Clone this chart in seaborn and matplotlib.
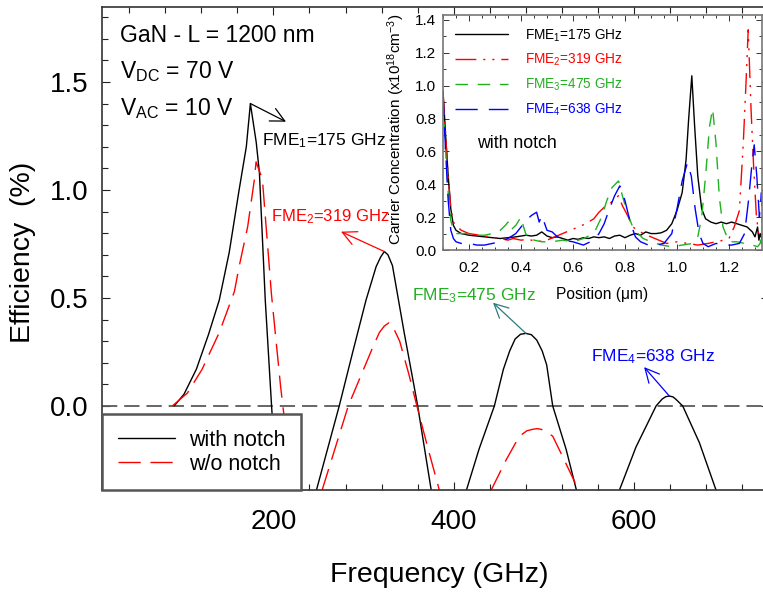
import matplotlib
matplotlib.use("Agg")
import matplotlib.pyplot as plt
from matplotlib.ticker import MultipleLocator, FormatStrFormatter
from matplotlib.lines import Line2D
import seaborn as sns

# ---------------- main plot data (Frequency GHz, Efficiency %) ----------------
freq_notch_1 = [90, 101, 114.6, 128, 140, 151, 162, 170, 174.5, 181, 184.5, 191, 198, 204]
eff_notch_1 = [0, 0.055, 0.17, 0.33, 0.49, 0.71, 1.0, 1.2, 1.40, 1.22, 1.08, 0.49, 0.0, -0.39]
freq_wo_1 = [88, 104.7, 121, 140, 156.8, 162, 171.5, 179, 180.8, 187.8, 197.8, 208, 215, 223]
eff_wo_1 = [0, 0.06, 0.17, 0.34, 0.53, 0.645, 0.83, 1.05, 1.13, 1.05, 0.52, 0.09, -0.16, -0.39]

freq_notch_2 = [247.7, 273, 288, 302.7, 313.9, 319, 323, 327, 332, 345, 359.6, 375]
eff_notch_2 = [-0.39, 0, 0.25, 0.49, 0.645, 0.69, 0.715, 0.70, 0.65, 0.34, 0.01, -0.39]
freq_wo_2 = [254, 283, 300, 310, 317.5, 323, 328, 331, 340, 350, 358.5, 371, 384]
eff_wo_2 = [-0.39, 0, 0.17, 0.27, 0.34, 0.37, 0.385, 0.38, 0.30, 0.15, 0.01, -0.19, -0.39]

freq_notch_3 = [414, 428, 445, 455, 462, 468, 474, 480, 486, 492, 498, 503, 509.7, 524.5, 536]
eff_notch_3 = [-0.39, -0.2, 0, 0.17, 0.255, 0.31, 0.332, 0.336, 0.33, 0.305, 0.255, 0.19, 0, -0.2, -0.39]
freq_wo_3 = [441.4, 458, 472.7, 481, 487.5, 492, 496.8, 503, 509.7, 519, 538.5]
eff_wo_3 = [-0.39, -0.25, -0.14, -0.115, -0.108, -0.105, -0.108, -0.12, -0.14, -0.22, -0.39]

freq_notch_4 = [583.6, 602, 624.3, 631, 635, 639, 643, 646, 653.8, 672.3, 690.8]
eff_notch_4 = [-0.39, -0.19, 0, 0.032, 0.043, 0.046, 0.042, 0.032, 0, -0.17, -0.39]

fme_labels = ["FME$_1$=175 GHz", "FME$_2$=319 GHz", "FME$_3$=475 GHz", "FME$_4$=638 GHz"]
fme_peaks = [(174.5, 1.40), (323, 0.715), (480, 0.336), (639, 0.046)]
fme_heads = [(214, 1.316), (275, 0.807), (443.5, 0.478), (611, 0.18)]
fme_text_pos = [(187.8, 1.23), (197, 0.875), (354, 0.509), (552.5, 0.227)]

# ---------------- inset data (Position um, Carrier concentration 1e18 cm^-3) ----------------
pos_fme1 = [0.10, 0.11, 0.12, 0.13, 0.14, 0.15, 0.17, 0.20, 0.23, 0.26, 0.29, 0.32, 0.35, 0.38,
            0.40, 0.42, 0.44, 0.46, 0.48, 0.50, 0.52, 0.54, 0.56, 0.58, 0.60, 0.62, 0.64, 0.66,
            0.68, 0.70, 0.72, 0.74, 0.76, 0.78, 0.80, 0.82, 0.84, 0.86, 0.88, 0.90, 0.92, 0.94,
            0.96, 0.98, 1.00, 1.02, 1.035, 1.045, 1.057, 1.068, 1.08, 1.095, 1.11, 1.13, 1.15,
            1.17, 1.19, 1.21, 1.23, 1.25, 1.27, 1.29, 1.30, 1.31, 1.315, 1.32, 1.33]
conc_fme1 = [0.97, 0.7, 0.45, 0.25, 0.15, 0.12, 0.1, 0.09, 0.085, 0.08, 0.075, 0.07, 0.075, 0.08,
             0.085, 0.09, 0.085, 0.09, 0.11, 0.085, 0.075, 0.08, 0.07, 0.06, 0.07, 0.065, 0.075, 0.07,
             0.08, 0.075, 0.08, 0.07, 0.085, 0.09, 0.075, 0.09, 0.1, 0.09, 0.11, 0.1, 0.1, 0.105,
             0.12, 0.16, 0.24, 0.35, 0.55, 0.8, 1.06, 0.75, 0.45, 0.25, 0.19, 0.17, 0.16,
             0.17, 0.16, 0.17, 0.16, 0.15, 0.14, 0.11, 0.08, 0.14, 0.06, 0.1, 0.05]

pos_fme2 = [0.10, 0.11, 0.12, 0.13, 0.14, 0.15, 0.17, 0.20, 0.24, 0.28, 0.32, 0.35, 0.37, 0.40,
            0.43, 0.46, 0.50, 0.53, 0.56, 0.59, 0.62, 0.65, 0.68, 0.70, 0.72, 0.74, 0.76, 0.775,
            0.79, 0.81, 0.83, 0.85, 0.87, 0.90, 0.93, 0.96, 1.00, 1.04, 1.08, 1.12, 1.15, 1.18,
            1.20, 1.22, 1.24, 1.255, 1.265, 1.274, 1.285, 1.295, 1.305, 1.315, 1.33]
conc_fme2 = [0.95, 0.7, 0.45, 0.25, 0.17, 0.15, 0.12, 0.1, 0.09, 0.08, 0.07, 0.06, 0.07, 0.06,
             0.065, 0.05, 0.06, 0.08, 0.1, 0.12, 0.14, 0.16, 0.19, 0.23, 0.26, 0.28, 0.31, 0.33,
             0.27, 0.21, 0.14, 0.12, 0.1, 0.08, 0.06, 0.04, 0.05, 0.04, 0.03, 0.04, 0.05, 0.06,
             0.07, 0.14, 0.24, 0.65, 1.0, 1.34, 0.85, 0.5, 0.22, 0.08, 0.03]

pos_fme3 = [0.10, 0.11, 0.12, 0.13, 0.14, 0.15, 0.17, 0.20, 0.23, 0.26, 0.29, 0.32, 0.34, 0.35,
            0.36, 0.38, 0.40, 0.41, 0.42, 0.43, 0.45, 0.48, 0.52, 0.56, 0.60, 0.64, 0.68, 0.71,
            0.73, 0.75, 0.775, 0.79, 0.81, 0.83, 0.85, 0.87, 0.90, 0.94, 0.98, 1.02, 1.06, 1.08,
            1.095, 1.11, 1.125, 1.137, 1.15, 1.163, 1.177, 1.20, 1.23, 1.26, 1.29, 1.31, 1.32, 1.33]
conc_fme3 = [0.9, 0.6, 0.35, 0.18, 0.12, 0.1, 0.1, 0.1, 0.09, 0.09, 0.1, 0.12, 0.15, 0.17,
             0.12, 0.15, 0.2, 0.14, 0.09, 0.1, 0.06, 0.05, 0.05, 0.06, 0.05, 0.07, 0.1, 0.2,
             0.3, 0.38, 0.42, 0.33, 0.22, 0.14, 0.1, 0.07, 0.05, 0.03, 0.02, 0.03, 0.04, 0.08,
             0.2, 0.45, 0.75, 0.86, 0.65, 0.32, 0.14, 0.05, 0.05, 0.04, 0.03, 0.02, 0.04, 0.15]

pos_fme4 = [0.10, 0.11, 0.12, 0.13, 0.14, 0.15, 0.17, 0.20, 0.23, 0.26, 0.29, 0.32, 0.35, 0.38,
            0.40, 0.42, 0.44, 0.46, 0.47, 0.48, 0.50, 0.52, 0.54, 0.56, 0.60, 0.64, 0.68, 0.70,
            0.72, 0.74, 0.76, 0.78, 0.80, 0.82, 0.84, 0.86, 0.89, 0.92, 0.95, 0.98, 1.00, 1.02,
            1.04, 1.055, 1.07, 1.085, 1.10, 1.12, 1.15, 1.18, 1.21, 1.24, 1.26, 1.275, 1.287,
            1.297, 1.307, 1.317, 1.325, 1.33]
conc_fme4 = [0.95, 0.6, 0.3, 0.12, 0.07, 0.05, 0.04, 0.04, 0.03, 0.03, 0.04, 0.05, 0.07, 0.1,
             0.14, 0.18, 0.21, 0.23, 0.17, 0.21, 0.12, 0.11, 0.08, 0.06, 0.05, 0.03, 0.06, 0.1,
             0.16, 0.25, 0.33, 0.39, 0.3, 0.17, 0.08, 0.05, 0.03, 0.03, 0.04, 0.1, 0.25, 0.42,
             0.53, 0.45, 0.25, 0.1, 0.04, 0.02, 0.04, 0.03, 0.03, 0.04, 0.1, 0.3, 0.5,
             0.64, 0.45, 0.2, 0.35, 0.1]

inset_labels = ["FME$_1$=175 GHz", "FME$_2$=319 GHz", "FME$_3$=475 GHz", "FME$_4$=638 GHz"]

# ---------------- style ----------------
sns.set_style("ticks")
plt.rcParams['font.family'] = ['Liberation Sans', 'DejaVu Sans']
plt.rcParams['mathtext.fontset'] = 'custom'
plt.rcParams['mathtext.rm'] = 'Liberation Sans'
plt.rcParams['mathtext.it'] = 'Liberation Sans:italic'
plt.rcParams['mathtext.default'] = 'regular'
plt.rcParams['lines.scale_dashes'] = False
plt.rcParams['text.color'] = 'black'
plt.rcParams['xtick.labelcolor'] = 'black'
plt.rcParams['ytick.labelcolor'] = 'black'

W, H = 763, 597
fig = plt.figure(figsize=(W / 100, H / 100), dpi=100)


def fx(px):
    return px / W


def fy(py):
    return 1 - py / H


RED = '#ff0000'
GREEN = '#22b022'
BLUE = '#0000ff'
TEAL = '#2a7c7c'
red_dash = (0, (16, 7))

# ---------------- main axes ----------------
ax = fig.add_axes([fx(102), fy(490), (750 - 10) * 0.902 / W, (490 - 7) / H])
ax.set_xlim(10, 750)
ax.set_ylim(-0.389, 1.847)

ax.axhline(0, color='#5a5a5a', lw=1.3, ls=(0, (11, 5)), zorder=1)

for fr, ef in [(freq_notch_1, eff_notch_1), (freq_notch_2, eff_notch_2),
               (freq_notch_3, eff_notch_3), (freq_notch_4, eff_notch_4)]:
    sns.lineplot(x=fr, y=ef, ax=ax, color='black', lw=1.0, legend=False)
for fr, ef in [(freq_wo_1, eff_wo_1), (freq_wo_2, eff_wo_2), (freq_wo_3, eff_wo_3)]:
    sns.lineplot(x=fr, y=ef, ax=ax, color=RED, lw=1.0, linestyle=red_dash, legend=False)

ax.xaxis.set_major_locator(MultipleLocator(200))
ax.xaxis.set_minor_locator(MultipleLocator(40))
ax.yaxis.set_major_locator(MultipleLocator(0.5))
ax.yaxis.set_minor_locator(MultipleLocator(0.1))
ax.yaxis.set_major_formatter(FormatStrFormatter('%.1f'))
ax.tick_params(which='both', direction='in', top=True, right=True, width=0.8, color='#222222')
ax.tick_params(which='major', length=6)
ax.tick_params(which='minor', length=4)
ax.tick_params(axis='x', labelsize=20, pad=14)
ax.tick_params(axis='y', labelsize=20, pad=10)
ax.set_xlabel('')
ax.set_ylabel('')
for sp in ax.spines.values():
    sp.set_color('#333333')
    sp.set_linewidth(1.2)

fig.text(fx(439), fy(575), 'Frequency (GHz)', fontsize=20.5, ha='center', va='center')
fig.text(fx(23), fy(252), 'Efficiency  (%)', fontsize=20.5, ha='center', va='center', rotation=90)

fig.text(fx(120), fy(42), 'GaN - L = 1200 nm', fontsize=16.5, ha='left', va='baseline')
fig.text(fx(120), fy(78), 'V$_{DC}$ = 70 V', fontsize=16.5, ha='left', va='baseline')
fig.text(fx(120), fy(115), 'V$_{AC}$ = 10 V', fontsize=16.5, ha='left', va='baseline')

text_colors = ['black', RED, GREEN, BLUE]
arrow_colors = ['black', RED, TEAL, BLUE]
text_sizes = [12.5, 12.0, 12.5, 12.5]
for lab, pk, hd, tp, tc, acol, fs in zip(fme_labels, fme_peaks, fme_heads, fme_text_pos,
                                         text_colors, arrow_colors, text_sizes):
    ax.annotate('', xy=hd, xytext=pk,
                arrowprops=dict(arrowstyle='->,head_length=0.5,head_width=0.25',
                                color=acol, lw=0.9, mutation_scale=20,
                                shrinkA=0, shrinkB=0))
    ax.text(tp[0], tp[1], lab, color=tc, fontsize=fs, ha='left', va='center')

handles = [Line2D([], [], color='black', lw=1.0),
           Line2D([], [], color=RED, lw=1.0, linestyle=red_dash)]
leg = ax.legend(handles, ['with notch', 'w/o notch'], loc='lower left',
                bbox_to_anchor=(0, 0), borderaxespad=0, fontsize=15.5,
                borderpad=0.72, labelspacing=0.12, handlelength=2.65,
                handletextpad=0.65, fancybox=False, framealpha=1,
                edgecolor='#555555', facecolor='white')
leg.get_frame().set_linewidth(1.8)

# ---------------- inset ----------------
axin = fig.add_axes([fx(443), fy(250), (762 - 443) / W, (250 - 15) / H])
axin.set_facecolor('white')
axin.set_xlim(0.1, 1.327)
axin.set_ylim(0, 1.43)

inset_series = [(pos_fme1, conc_fme1, 'black', '-'),
                (pos_fme2, conc_fme2, RED, (0, (15, 5, 1.5, 5, 1.5, 5))),
                (pos_fme3, conc_fme3, GREEN, (0, (9, 7))),
                (pos_fme4, conc_fme4, BLUE, (0, (16, 8)))]
in_handles = []
for (xs, ys, col, ls) in inset_series:
    sns.lineplot(x=xs, y=ys, ax=axin, color=col, lw=1.0, linestyle=ls, legend=False)
    in_handles.append(Line2D([], [], color=col, lw=1.0, linestyle=ls))

leg2 = axin.legend(in_handles, inset_labels, loc='upper left',
                   bbox_to_anchor=(0.0376, 0.948), borderaxespad=0, borderpad=0,
                   frameon=False, fontsize=9.8, handlelength=3.9,
                   handletextpad=1.25, labelspacing=0.62)
for t, c in zip(leg2.get_texts(), ['black', RED, GREEN, BLUE]):
    t.set_color(c)

axin.xaxis.set_major_locator(MultipleLocator(0.2))
axin.xaxis.set_minor_locator(MultipleLocator(0.05))
axin.yaxis.set_major_locator(MultipleLocator(0.2))
axin.yaxis.set_minor_locator(MultipleLocator(0.1))
axin.xaxis.set_major_formatter(FormatStrFormatter('%.1f'))
axin.yaxis.set_major_formatter(FormatStrFormatter('%.1f'))
axin.tick_params(which='both', direction='in', top=True, right=True, width=0.7, color='#333333')
axin.tick_params(which='major', length=4)
axin.tick_params(which='minor', length=2.5)
axin.tick_params(axis='x', labelsize=11, pad=8)
axin.tick_params(axis='y', labelsize=11, pad=5)
axin.set_xlabel('')
axin.set_ylabel('')
for sp in axin.spines.values():
    sp.set_color('#777777')
    sp.set_linewidth(1.2)

fig.text(fx(602), fy(295), 'Position (\u03bcm)', fontsize=11.2, ha='center', va='center')
fig.text(fx(396), fy(129), 'Carrier Concentration (x10$^{18}$cm$^{-3}$)', fontsize=11,
         ha='center', va='center', rotation=90)
fig.text(fx(477), fy(148), 'with notch', fontsize=12.8, ha='left', va='baseline')

fig.savefig('out.png', dpi=100)
